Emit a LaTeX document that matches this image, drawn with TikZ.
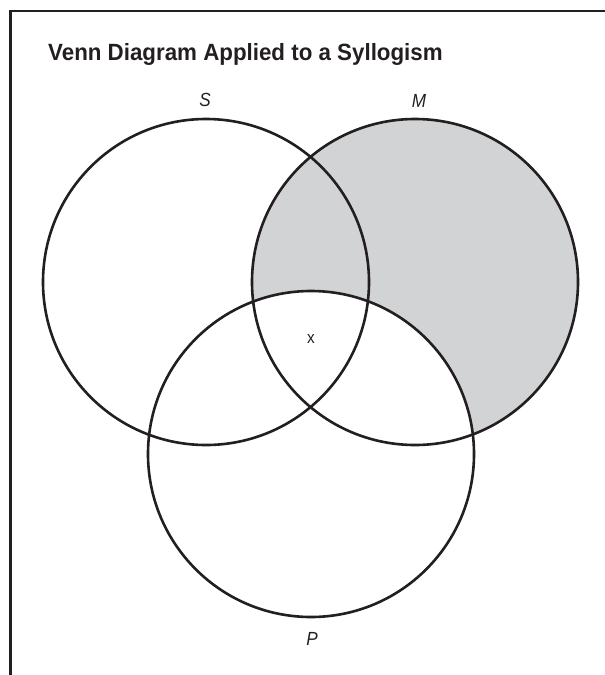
\documentclass[tikz,border=0pt]{standalone}
\usepackage{fontspec}
\setmainfont{Liberation Sans}
\newfontfamily\titlefont[FakeStretch=0.95]{Liberation Sans}
\newfontfamily\labfont[FakeStretch=0.9]{Liberation Sans}
\definecolor{shadegray}{HTML}{D1D3D4}
\definecolor{ink}{HTML}{231F20}
\begin{document}
\begin{tikzpicture}[x=1pt,y=-1pt,
  venn/.style={circle,draw=ink,line width=2.6pt,minimum size=326pt,inner sep=0pt},
  setlab/.style={font=\labfont\itshape\fontsize{19}{21}\selectfont,text=ink,inner sep=0pt},
  frame/.style={line width=2.6pt,draw=ink}]
\useasboundingbox (0,0) rectangle (605,675);
\draw[frame] (10.5,675) -- (10.5,11) -- (605,11);
\node[anchor=base west,inner sep=0pt,text=ink,font=\titlefont\bfseries\fontsize{23.5}{26}\selectfont] (title) at (48,60) {Venn Diagram Applied to a Syllogism};
\fill[shadegray] (415,282) circle[radius=163pt];
\fill[white] (311,454) circle[radius=163pt];
\node[venn] (S) at (206,282) {};
\node[venn] (M) at (415,282) {};
\node[venn] (P) at (311,454) {};
\node[setlab] (Sl) at (205,100) {S};
\node[setlab] (Ml) at (419,101) {M};
\node[setlab] (Pl) at (312,639) {P};
\node[inner sep=0pt,text=ink,font=\labfont\fontsize{17}{19}\selectfont] (x) at (311,339) {x};
\end{tikzpicture}
\end{document}
